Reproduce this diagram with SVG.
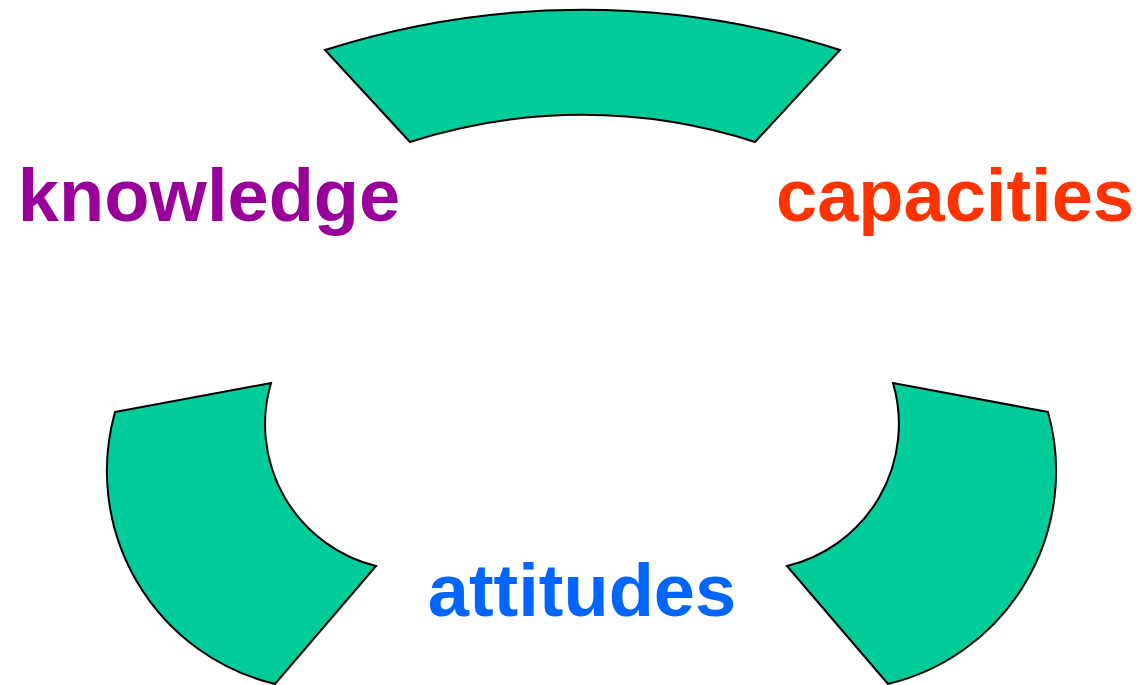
<svg xmlns="http://www.w3.org/2000/svg" width="1139" height="685" viewBox="0 0 1139 685">
  <style>
    .arc { fill: #00CC99; stroke: #000000; stroke-width: 2; stroke-linejoin: miter; }
    .lbl { font-family: "Liberation Sans", Arial, sans-serif; font-weight: bold; font-size: 74px; text-anchor: middle; }
  </style>
  <rect width="1139" height="685" fill="#FFFFFF"/>
  <g id="arc-top">
    <path class="arc" d="M 325,50 A 845 845 0 0 1 840,50 L 755,142 A 561 561 0 0 0 410,142 Z"/>
  </g>
  <g id="arc-left">
    <path class="arc" d="M 115,412 L 271,383 A 146 146 0 0 0 376,566 L 275,684 A 219 219 0 0 1 115,412 Z"/>
  </g>
  <g id="arc-right">
    <path class="arc" d="M 1048,412 L 893,383 A 146 146 0 0 1 787,566 L 888,684 A 219 219 0 0 0 1048,412 Z"/>
  </g>
  <g id="label-knowledge">
    <text class="lbl" x="209" y="221" fill="#990099">knowledge</text>
  </g>
  <g id="label-capacities">
    <text class="lbl" x="955" y="221" fill="#FF3300">capacities</text>
  </g>
  <g id="label-attitudes">
    <text class="lbl" x="582" y="616" fill="#0066FF">attitudes</text>
  </g>
  <g id="connectors"></g>
</svg>
